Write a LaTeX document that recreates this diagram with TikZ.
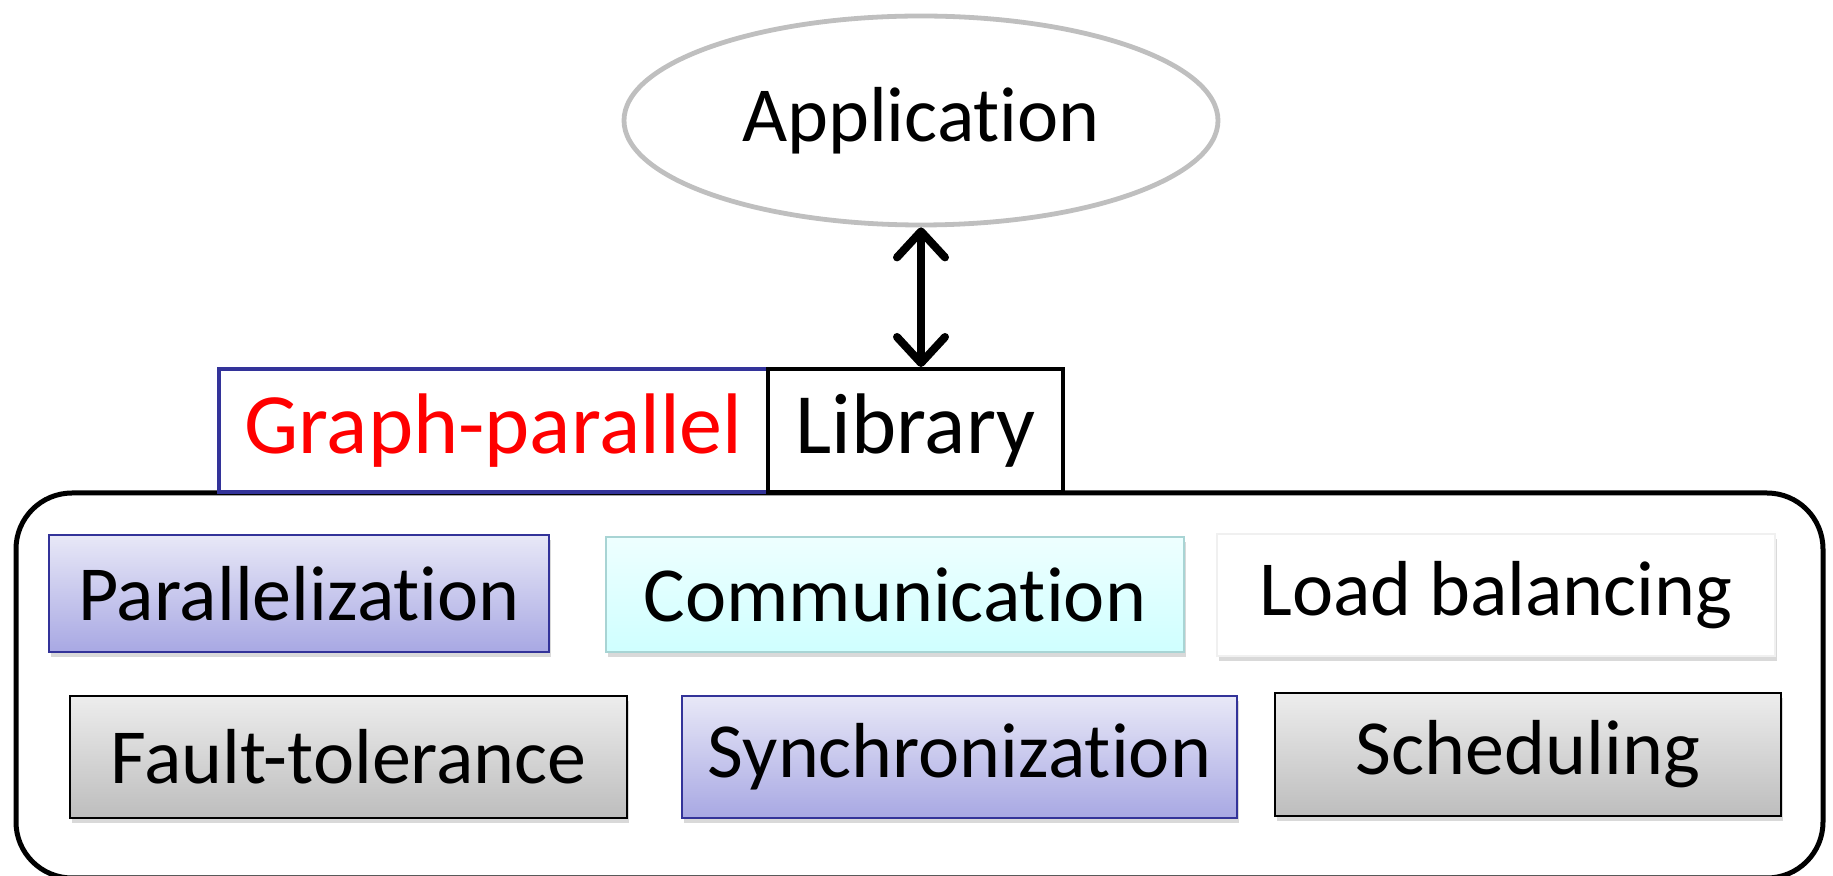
\documentclass[tikz,border=0pt]{standalone}
\usepackage{fontspec}
\setmainfont{Carlito}[Ligatures=NoCommon]
\usetikzlibrary{arrows.meta,shadows,shapes.geometric}
\definecolor{gpblue}{HTML}{333399}
\definecolor{lavtop}{HTML}{E8E8F7}
\definecolor{lavbot}{HTML}{A8A8E3}
\definecolor{cyantop}{HTML}{EEFFFF}
\definecolor{cyanbot}{HTML}{CFFFFF}
\definecolor{cyanline}{HTML}{A8D4D4}
\definecolor{graytop}{HTML}{EDEDED}
\definecolor{graybot}{HTML}{BDBDBD}
\definecolor{ellline}{HTML}{BFBFBF}
\tikzset{
  lbl/.style={font=\fontsize{39}{46}\selectfont, inner sep=0pt},
  tile/.style={lbl, rectangle, drop shadow={opacity=0.3, shadow xshift=0.8pt, shadow yshift=-2.5pt}},
  lavtile/.style={tile, draw=gpblue, line width=1pt, top color=lavtop, bottom color=lavbot},
  cyantile/.style={tile, draw=cyanline, line width=1pt, top color=cyantop, bottom color=cyanbot},
  whitetile/.style={tile, draw=black!6, line width=0.6pt, fill=white},
  graytile/.style={tile, draw=black, line width=1.1pt, top color=graytop, bottom color=graybot},
  tab/.style={inner sep=0pt, font=\fontsize{43}{50}\selectfont, rectangle, line width=2pt, fill=white, minimum height=61.5pt},
}
\begin{document}
\begin{tikzpicture}[x=0.5pt, y=-0.5pt]
\useasboundingbox (0,0) rectangle (1833,876);
\clip (0,0) rectangle (1833,876);

% outer library frame, its lower edge running off the bottom
\draw[line width=2.5pt, rounded corners=28pt] (16,493) rectangle (1823,878);

% tabs on top of the frame
\node[tab, draw=gpblue, text=red, minimum width=274.5pt] (gp) at (493.5,430.5) {Graph-parallel};
\node[tab, draw=black, minimum width=147.5pt] (lib) at (915.5,430.5) {Library};

% application
\node[lbl, ellipse, draw=ellline, line width=2.4pt, minimum width=297pt, minimum height=104.5pt] (app) at (921,120.5) {Application};

% first row of services
\node[lavtile, minimum width=250pt, minimum height=58.5pt] (par) at (299,593.5) {Parallelization};
\node[cyantile, minimum width=289pt, minimum height=57.5pt] (com) at (895,594.5) {Communication};
\node[whitetile, minimum width=279pt, minimum height=61pt] (lb) at (1496,595) {Load balancing};

% second row of services
\node[graytile, minimum width=278.5pt, minimum height=61pt] (ft) at (348.5,757) {Fault-tolerance};
\node[lavtile, minimum width=277.5pt, minimum height=61pt] (syn) at (959.5,757) {Synchronization};
\node[graytile, minimum width=253pt, minimum height=61.5pt] (sch) at (1528,754.5) {Scheduling};

% link between application and library
\draw[line width=4pt, {Straight Barb[round, length=13pt, width=24pt]}-{Straight Barb[round, length=13pt, width=24pt]}]
  (app.south) -- (lib.north -| app.south);
\end{tikzpicture}
\end{document}
